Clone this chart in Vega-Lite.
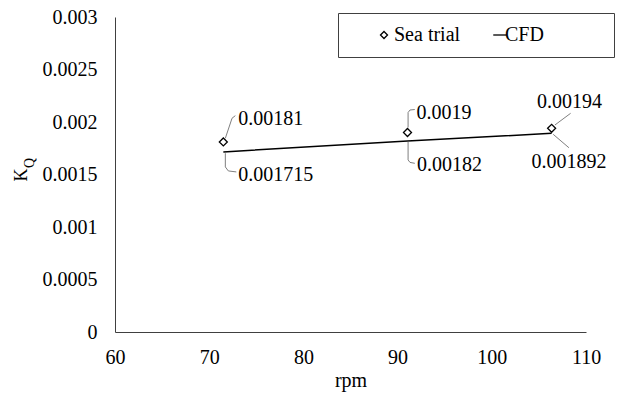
{
  "$schema": "https://vega.github.io/schema/vega-lite/v6.json",
  "width": 471,
  "height": 315,
  "autosize": {"type": "none"},
  "padding": {"left": 115, "top": 17, "right": 31, "bottom": 64},
  "background": "white",
  "config": {
    "view": {"stroke": null},
    "font": "Liberation Serif",
    "text": {"font": "Liberation Serif"},
    "legend": {"labelFont": "Liberation Serif", "titleFont": "Liberation Serif"},
    "axis": {
      "labelFont": "Liberation Serif",
      "labelFontSize": 20,
      "labelColor": "black",
      "titleFont": "Liberation Serif",
      "titleFontWeight": "normal",
      "titleColor": "black",
      "domainColor": "#404040",
      "domainWidth": 1,
      "ticks": false,
      "grid": false
    }
  },
  "datasets": {
    "kq": [
      {"rpm": 71.5, "kq": 0.00181, "series": "Sea trial", "id": "S1"},
      {"rpm": 91.05, "kq": 0.0019, "series": "Sea trial", "id": "S2"},
      {"rpm": 106.35, "kq": 0.00194, "series": "Sea trial", "id": "S3"},
      {"rpm": 71.5, "kq": 0.001715, "series": "CFD", "id": "C1"},
      {"rpm": 91.05, "kq": 0.00182, "series": "CFD", "id": "C2"},
      {"rpm": 106.35, "kq": 0.001892, "series": "CFD", "id": "C3"}
    ]
  },
  "data": {"name": "kq"},
  "layer": [
    {
      "transform": [{"filter": "datum.series == 'CFD'"}],
      "mark": {"type": "line", "color": "black", "strokeWidth": 1.5},
      "encoding": {
        "x": {
          "field": "rpm", "type": "quantitative",
          "scale": {"domain": [60, 110], "nice": false, "zero": false},
          "axis": {"values": [60, 70, 80, 90, 100, 110], "labelPadding": 15, "labelFlush": false, "title": "rpm", "titleFontSize": 20, "titlePadding": 3}
        },
        "y": {
          "field": "kq", "type": "quantitative",
          "scale": {"domain": [0, 0.003], "nice": false},
          "axis": {"values": [0, 0.0005, 0.001, 0.0015, 0.002, 0.0025, 0.003], "format": "~g", "labelPadding": 18, "labelFlush": false, "title": "K", "titleFontSize": 18, "titlePadding": 12}
        }
      }
    },
    {
      "transform": [{"filter": "datum.series == 'Sea trial'"}],
      "mark": {"type": "point", "filled": false, "color": "black", "strokeWidth": 1.3, "size": 64, "opacity": 1},
      "encoding": {
        "x": {"field": "rpm", "type": "quantitative"},
        "y": {"field": "kq", "type": "quantitative"},
        "shape": {
          "field": "series", "type": "nominal",
          "scale": {"domain": ["Sea trial", "CFD"], "range": ["diamond", "M-0.5,0L3.3,0"]},
          "legend": {
            "orient": "none", "legendX": 223, "legendY": -4,
            "direction": "horizontal",
            "title": " ", "titleOrient": "right", "titlePadding": 58, "titleFontSize": 20,
            "strokeColor": "#404040", "fillColor": "white", "padding": 12,
            "labelFont": "Liberation Serif", "labelFontSize": 20, "labelColor": "black",
            "symbolSize": 49, "symbolStrokeWidth": 1.3, "symbolStrokeColor": "black",
            "symbolOffset": 24, "labelOffset": 0, "columnPadding": -8
          }
        }
      }
    },
    {
      "mark": {"type": "point", "filled": false, "stroke": "#7f7f7f", "strokeWidth": 1, "size": 400, "opacity": 1},
      "encoding": {
        "x": {"field": "rpm", "type": "quantitative"},
        "y": {"field": "kq", "type": "quantitative"},
        "shape": {
          "field": "id", "type": "nominal",
          "scale": {
            "domain": ["S1", "S2", "S3", "C1", "C2", "C3"],
            "range": [
              "M0.2,-0.37L0.87,-2.37L1.2,-2.63",
              "M0.06,-0.5L0.06,-2.0L0.25,-2.25L0.73,-2.3",
              "M0.33,-0.33L1.9,-1.5",
              "M0.2,0.13L0.2,1.5L0.5,1.9L1.3,2.0",
              "M0.06,0.1L0.06,1.9L0.25,2.15L0.73,2.24",
              "M0.16,0.1L1.73,1.44"
            ]
          },
          "legend": null
        }
      }
    },
    {
      "transform": [{"filter": "datum.id == 'S1'"}],
      "mark": {"type": "text", "font": "Liberation Serif", "fontSize": 20, "align": "left", "baseline": "alphabetic", "dx": 15, "dy": -17, "color": "black"},
      "encoding": {"x": {"field": "rpm", "type": "quantitative"}, "y": {"field": "kq", "type": "quantitative"}, "text": {"field": "kq", "type": "quantitative", "format": "~g"}}
    },
    {
      "transform": [{"filter": "datum.id == 'S2'"}],
      "mark": {"type": "text", "font": "Liberation Serif", "fontSize": 20, "align": "left", "baseline": "alphabetic", "dx": 9, "dy": -14, "color": "black"},
      "encoding": {"x": {"field": "rpm", "type": "quantitative"}, "y": {"field": "kq", "type": "quantitative"}, "text": {"field": "kq", "type": "quantitative", "format": "~g"}}
    },
    {
      "transform": [{"filter": "datum.id == 'S3'"}],
      "mark": {"type": "text", "font": "Liberation Serif", "fontSize": 20, "align": "center", "baseline": "alphabetic", "dx": 18, "dy": -20, "color": "black"},
      "encoding": {"x": {"field": "rpm", "type": "quantitative"}, "y": {"field": "kq", "type": "quantitative"}, "text": {"field": "kq", "type": "quantitative", "format": "~g"}}
    },
    {
      "transform": [{"filter": "datum.id == 'C1'"}],
      "mark": {"type": "text", "font": "Liberation Serif", "fontSize": 20, "align": "left", "baseline": "alphabetic", "dx": 15, "dy": 29, "color": "black"},
      "encoding": {"x": {"field": "rpm", "type": "quantitative"}, "y": {"field": "kq", "type": "quantitative"}, "text": {"field": "kq", "type": "quantitative", "format": "~g"}}
    },
    {
      "transform": [{"filter": "datum.id == 'C2'"}],
      "mark": {"type": "text", "font": "Liberation Serif", "fontSize": 20, "align": "left", "baseline": "alphabetic", "dx": 9.5, "dy": 30.5, "color": "black"},
      "encoding": {"x": {"field": "rpm", "type": "quantitative"}, "y": {"field": "kq", "type": "quantitative"}, "text": {"field": "kq", "type": "quantitative", "format": "~g"}}
    },
    {
      "transform": [{"filter": "datum.id == 'C3'"}],
      "mark": {"type": "text", "font": "Liberation Serif", "fontSize": 20, "align": "center", "baseline": "alphabetic", "dx": 17.5, "dy": 34.5, "color": "black"},
      "encoding": {"x": {"field": "rpm", "type": "quantitative"}, "y": {"field": "kq", "type": "quantitative"}, "text": {"field": "kq", "type": "quantitative", "format": "~g"}}
    },
    {
      "data": {"values": [{"sub": "Q"}]},
      "mark": {"type": "text", "font": "Liberation Serif", "fontSize": 14, "angle": 270, "align": "center", "baseline": "middle", "dx": 11.5, "dy": -85, "color": "black"},
      "encoding": {"x": {"datum": 60, "type": "quantitative"}, "y": {"datum": 0.0015, "type": "quantitative"}, "text": {"field": "sub", "type": "nominal"}}
    }
  ],
  "resolve": {"scale": {"shape": "independent"}}
}
